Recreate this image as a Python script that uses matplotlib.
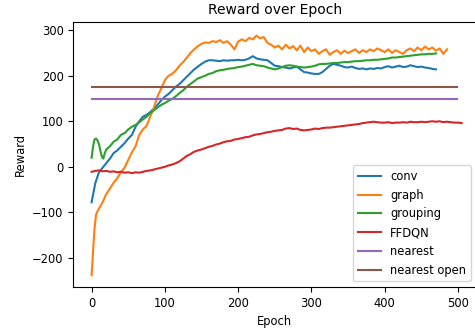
import matplotlib.pyplot as plt
import numpy as np

# epochs 0..470 step 5
conv_x = np.arange(0, 475, 5)
conv = [-78, -36, -12, -2, 8, 18, 30, 36, 44, 52,
        62, 70, 88, 100, 110, 114, 120, 128, 136, 146,
        154, 160, 168, 176, 182, 190, 198, 206, 214, 220,
        226, 231, 234, 234, 233, 232, 234, 233, 234, 234,
        235, 234, 235, 238, 243, 238, 236, 235, 234, 228,
        222, 221, 219, 218, 216, 218, 220, 214, 208, 207,
        205, 204, 204, 208, 215, 222, 226, 224, 222, 219,
        218, 220, 217, 215, 216, 214, 216, 215, 217, 216,
        219, 221, 218, 220, 222, 219, 220, 223, 221, 219,
        220, 218, 217, 215, 214]

graph_x = [0, 2, 4, 6, 8] + list(range(10, 490, 5))
graph = [-238, -185, -135, -105, -98,
         -92, -78, -60, -48, -35, -25, -12, -2,
         15, 32, 45, 70, 82, 90, 110, 130, 155, 172,
         190, 200, 204, 212, 222, 230, 240, 250, 258, 265,
         270, 273, 272, 276, 274, 278, 272, 276, 268, 258,
         275, 280, 276, 283, 280, 288, 282, 285, 272, 268,
         262, 266, 258, 268, 260, 265, 256, 266, 252, 262,
         254, 258, 248, 254, 258, 246, 252, 256, 248, 255,
         250, 254, 258, 250, 256, 252, 258, 254, 260, 256,
         252, 258, 250, 256, 252, 248, 256, 260, 254, 262,
         256, 264, 258, 262, 255, 260, 248, 258]

grouping_x = [0, 2, 4, 6, 8, 10, 12, 14, 16, 18] + list(range(20, 475, 5))
grouping = [20, 45, 60, 62, 58, 50, 35, 22, 18, 30,
            38, 45, 55, 60, 70, 74, 82, 88, 92, 98,
            104, 110, 118, 124, 130, 136, 140, 145, 149, 155,
            162, 168, 176, 182, 188, 194, 197, 200, 204, 206,
            210, 212, 213, 215, 216, 217, 219, 220, 222, 224,
            226, 223, 222, 221, 218, 216, 214, 216, 219, 222,
            223, 222, 220, 219, 218, 219, 220, 222, 225, 226,
            226, 227, 228, 228, 229, 230, 230, 231, 232, 232,
            233, 234, 234, 235, 235, 236, 237, 238, 240, 240,
            241, 242, 243, 244, 245, 246, 247, 247, 248, 248,
            249]

ffdqn_x = np.arange(0, 510, 5)
ffdqn = [-11, -9, -8, -10, -9, -11, -10, -12, -11, -13,
         -12, -14, -12, -13, -11, -9, -8, -6, -4, -2,
         0, 3, 5, 8, 12, 18, 24, 28, 33, 36,
         38, 41, 44, 46, 49, 51, 54, 56, 57, 60,
         61, 63, 65, 66, 69, 71, 72, 74, 76, 77,
         79, 80, 81, 84, 85, 83, 84, 81, 80, 81,
         82, 84, 83, 85, 86, 86, 87, 88, 89, 90,
         91, 92, 93, 94, 96, 97, 98, 99, 98, 97,
         97, 98, 96, 97, 97, 98, 97, 99, 98, 98,
         99, 98, 99, 100, 99, 100, 98, 99, 98, 97,
         97, 96]

flat_x = [0, 499]
nearest = [148, 148]
nearest_open = [175, 175]

fig = plt.figure(figsize=(4.75, 3.3), dpi=100)
ax = fig.add_axes([0.1543, 0.1303, 0.8484, 0.803])

ax.plot(conv_x, conv, label='conv')
ax.plot(graph_x, graph, label='graph')
ax.plot(grouping_x, grouping, label='grouping')
ax.plot(ffdqn_x, ffdqn, label='FFDQN')
ax.plot(flat_x, nearest, label='nearest')
ax.plot(flat_x, nearest_open, label='nearest open')

ax.set_xlim(-25, 525)
ax.set_ylim(-264, 318)
ax.set_xticks([0, 100, 200, 300, 400, 500])
ax.set_yticks([-200, -100, 0, 100, 200, 300])
ax.tick_params(labelsize=8.3)
ax.set_title('Reward over Epoch', fontsize=10)
ax.set_xlabel('Epoch', fontsize=8.3)
ax.set_ylabel('Reward', fontsize=8.3)
ax.legend(loc='lower right', fontsize=8.3)

fig.savefig('out.png')
